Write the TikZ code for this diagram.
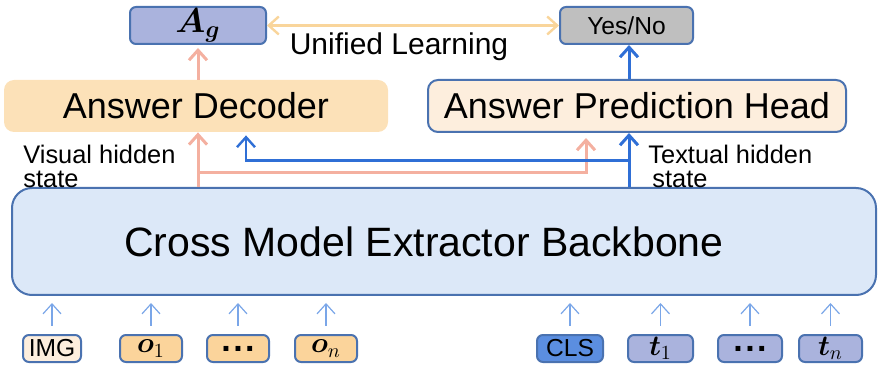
\documentclass[tikz,border=0pt]{standalone}
\usepackage{amsmath,bm}
\usepackage{fontspec}
\setmainfont{Liberation Sans}
\usetikzlibrary{arrows.meta}

\definecolor{boxline}{HTML}{4A72B0}
\definecolor{lavender}{HTML}{AAB3DD}
\definecolor{peach}{HTML}{FCE1B8}
\definecolor{cream}{HTML}{FDEEDD}
\definecolor{orangefill}{HTML}{FBD49B}
\definecolor{backfill}{HTML}{DCE8F8}
\definecolor{pinkline}{HTML}{F4B0A0}
\definecolor{blueline}{HTML}{2F6FD6}
\definecolor{thinblue}{HTML}{7AA6E8}
\definecolor{learnline}{HTML}{F9D59B}
\definecolor{clsfill}{HTML}{5B8EE0}
\definecolor{grayfill}{HTML}{BFBFBF}

\newcommand{\tokdots}{{\fontsize{17}{17}\bfseries .\hspace{1.2pt}.\hspace{1.2pt}.}}

\begin{document}
\begin{tikzpicture}[x=0.5pt,y=-0.5pt,
  box/.style={draw=boxline,line width=1pt,rounded corners=3pt,inner sep=0pt,
    minimum height=13.5pt,font=\fontsize{12.3}{14}\selectfont},
  bigbox/.style={rounded corners=5pt,inner sep=0pt,minimum height=26pt,
    font=\fontsize{18}{20}\selectfont},
  tip/.style={-{Straight Barb[length=5pt,width=9pt]}},
  pinkarrow/.style={tip,draw=pinkline,line width=1.5pt},
  bluearrow/.style={tip,draw=blueline,line width=1.5pt},
  inarrow/.style={tip,draw=thinblue,line width=0.6pt,shorten <=4pt,shorten >=3.5pt},
  side/.style={align=left,anchor=west,inner sep=0pt,font=\fontsize{12.7}{12}\selectfont}]
  \useasboundingbox (0,0) rectangle (882,368);

  % outputs
  \node[box,fill=lavender,minimum width=68pt,minimum height=18.5pt,font=\LARGE] (ag) at (198,25.5) {$\bm{A}_{\bm{g}}$};
  \node[box,fill=grayfill,minimum width=66.5pt,minimum height=18.5pt] (yesno) at (626.5,25.5) {Yes/No};
  \draw[{Straight Barb[length=5pt,width=9pt]}-{Straight Barb[length=5pt,width=9pt]},draw=learnline,line width=1.2pt] (ag) -- (yesno);
  \node[inner sep=0pt,font=\fontsize{15}{16}\selectfont] (learn) at (399,47) {Unified Learning};

  % heads
  \node[bigbox,fill=peach,minimum width=192pt] (dec) at (196,106) {Answer Decoder};
  \node[bigbox,fill=cream,draw=boxline,line width=1pt,minimum width=209pt] (head) at (637,106) {Answer Prediction Head};
  \draw[pinkarrow,shorten >=1.5pt] (dec.north -| ag) -- (ag.south);
  \draw[bluearrow] (head.north -| 629,0) -- (yesno.south -| 629,0);

  % backbone
  \node[draw=boxline,line width=1pt,fill=backfill,rounded corners=10pt,inner sep=0pt,
    minimum width=432pt,minimum height=53.5pt,font=\fontsize{20.5}{22}\selectfont] (bb) at (444,241.5)
    {Cross Model Extractor Backbone\hspace{20pt}\mbox{}};

  % hidden states
  \coordinate (vis) at (198,172.5);
  \coordinate (txt) at (629,160.5);
  \draw[pinkarrow] (bb.north -| vis) -- (dec.south -| vis);
  \draw[pinkarrow,shorten >=2.5pt] (vis) -- (586,172.5) -- (head.south -| 586,0);
  \draw[bluearrow,line width=1.2pt,shorten >=1.5pt] (txt) -- (246,160.5) -- (dec.south -| 246,0);
  \draw[bluearrow] (bb.north -| txt) -- (head.south -| txt);
  \node[side] (vislab) at (23,166) {Visual hidden\\state};
  \node[side] (txtlab) at (648,166) {Textual hidden\\\hspace{2pt}state};

  % inputs
  \node[box,fill=cream,minimum width=29pt] (img) at (52,348.5) {IMG};
  \node[box,fill=orangefill,minimum width=31pt,font=\Large] (o1) at (151,348.5) {$\bm{o}_1$};
  \node[box,fill=orangefill,minimum width=31pt] (odots) at (238,348.5) {\tokdots};
  \node[box,fill=orangefill,minimum width=31pt,font=\Large] (on) at (326,348.5) {$\bm{o}_n$};
  \node[box,fill=clsfill,minimum width=33pt] (cls) at (570,348.5) {CLS};
  \node[box,fill=lavender,minimum width=32.5pt,font=\Large] (t1) at (660.5,348.5) {$\bm{t}_1$};
  \node[box,fill=lavender,minimum width=32pt] (tdots) at (750,348.5) {\tokdots};
  \node[box,fill=lavender,minimum width=31.5pt,font=\Large] (tn) at (830.5,348.5) {$\bm{t}_n$};
  \foreach \tok in {img,o1,odots,on,cls,t1,tdots,tn}
    \draw[inarrow] (\tok.north) -- (\tok.north |- bb.south);
\end{tikzpicture}
\end{document}
